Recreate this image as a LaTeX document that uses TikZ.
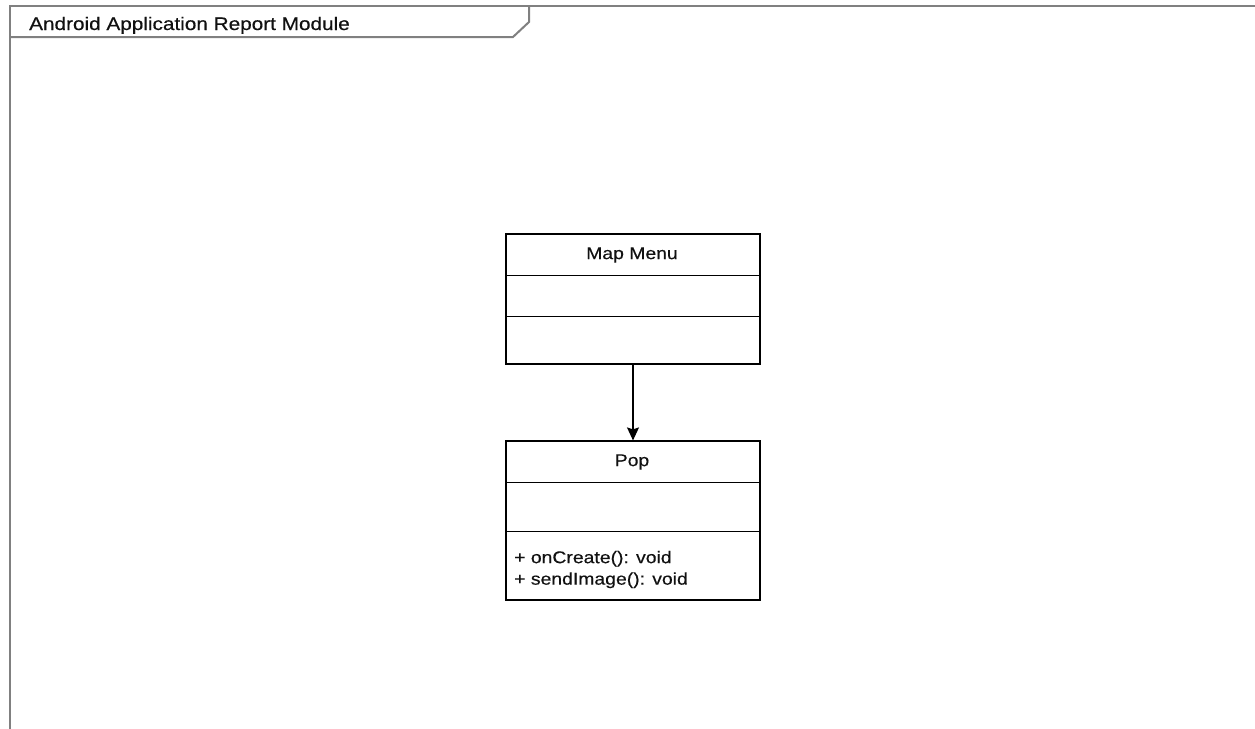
\documentclass[tikz,border=0pt]{standalone}
\usepackage{fontspec}
\setmainfont{Liberation Sans}
\newfontfamily\umlfont[FakeStretch=1.14,FakeBold=0.35]{Liberation Sans}
\usetikzlibrary{arrows.meta,calc}
\definecolor{framegray}{HTML}{808080}
\definecolor{inkcol}{HTML}{111111}
\tikzset{
  frameline/.style={draw=framegray, line width=2pt},
  classbox/.style={draw=black, line width=1.2pt, fill=white, rectangle, minimum width=254pt, inner sep=0pt},
  divider/.style={draw=black, line width=1.2pt},
  umltext/.style={font=\umlfont\fontsize{17}{21.5}\selectfont, text=inkcol, inner sep=0pt},
  titletext/.style={font=\umlfont\fontsize{18.2}{22}\selectfont, text=inkcol, inner sep=0pt},
  assoc/.style={draw=black, line width=1.2pt, -{Stealth[length=13pt, width=12pt, inset=2pt]}}
}
\begin{document}
\begin{tikzpicture}[x=1pt,y=-1pt]
  \useasboundingbox[fill=white] (0,0) rectangle (1255,728);

  % package frame and its name tab
  \draw[frameline] (10,740) -- (10,5.5) -- (1270,5.5);
  \draw[frameline] (529,5.5) -- (529,22) -- (513,37) -- (10,37);
  \node[titletext, anchor=base west] (pkgname) at (29,30) {Android Application Report Module};

  % class Map Menu
  \node[classbox, minimum height=130pt] (mapmenu) at (633,299) {};
  \draw[divider] ($(mapmenu.north west)+(0,42)$) -- ($(mapmenu.north east)+(0,42)$);
  \draw[divider] ($(mapmenu.north west)+(0,83)$) -- ($(mapmenu.north east)+(0,83)$);
  \node[umltext] (mapmenuname) at (632,255) {Map Menu};

  % class Pop
  \node[classbox, minimum height=159pt] (pop) at (633,520.5) {};
  \draw[divider] ($(pop.north west)+(0,42)$) -- ($(pop.north east)+(0,42)$);
  \draw[divider] ($(pop.north west)+(0,91)$) -- ($(pop.north east)+(0,91)$);
  \node[umltext] (popname) at (632,462) {Pop};
  \node[umltext, anchor=west, align=left] (popops) at (514,569.5)
    {+ onCreate(): void\\+ sendImage(): void};

  % association
  \draw[assoc] (mapmenu.south) -- (pop.north);
\end{tikzpicture}
\end{document}
